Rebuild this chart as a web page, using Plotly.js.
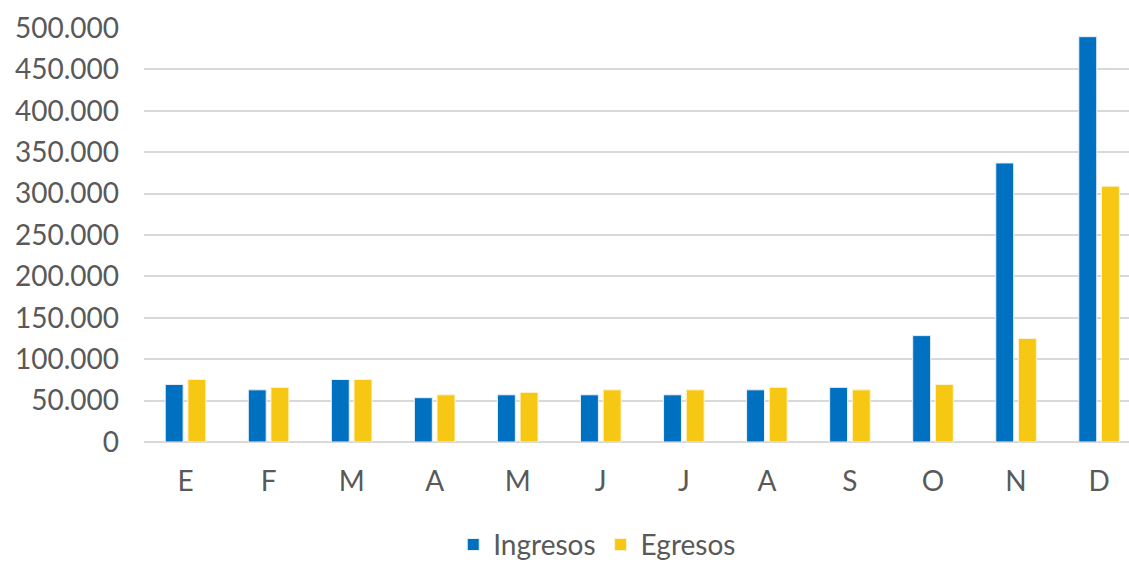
<!DOCTYPE html>
<html>
<head>
<meta charset="utf-8">
<script src="https://cdn.plot.ly/plotly-3.0.1.min.js"></script>
<style>html,body{margin:0;padding:0;background:#fff;}#chart{width:1129px;height:564px;}</style>
</head>
<body>
<div id="chart"></div>
<script>
const months = ["E","F","M","A","M","J","J","A","S","O","N","D"];
const ingresos = [69500, 63000, 75500, 53500, 57000, 57000, 57000, 63000, 66000, 128500, 337000, 489500];
const egresos  = [75500, 66000, 75500, 57000, 60000, 63000, 63000, 66000, 63000, 69500, 125000, 309000];
const xIdx = months.map((m, i) => i);

const font = {family: "Lato, 'Open Sans', sans-serif", color: "#595959", size: 28};

const traces = [
  {type: "bar", name: "Ingresos", x: xIdx, y: ingresos,
   marker: {color: "#0070C0", line: {color: "#E8F0F8", width: 1}}, hoverinfo: "y"},
  {type: "bar", name: "Egresos", x: xIdx, y: egresos,
   marker: {color: "#F6C814", line: {color: "#FFF4D0", width: 1}}, hoverinfo: "y"}
];

const layout = {
  width: 1129, height: 564,
  margin: {l: 143.5, r: 0, t: 27.5, b: 122.3, pad: 0, autoexpand: false},
  paper_bgcolor: "#fff", plot_bgcolor: "#fff",
  separators: ",.",
  font: font,
  barmode: "group",
  bargap: 0.454,
  bargroupgap: 0.21,
  showlegend: true,
  legend: {orientation: "h", xref: "container", x: 0.529, xanchor: "center",
           yref: "container", y: 0.034, yanchor: "middle", font: font, itemwidth: 30,
           tracegroupgap: 0, traceorder: "normal"},
  xaxis: {
    tickmode: "array", tickvals: xIdx, ticktext: months,
    range: [-0.5, 11.36], showgrid: false, zeroline: false, showline: false,
    ticks: "", tickfont: font, ticklabelstandoff: 20
  },
  yaxis: {
    range: [0, 500000], dtick: 50000, tick0: 0, tickformat: ",d",
    showgrid: true, gridcolor: "#D9D9D9", gridwidth: 2,
    zeroline: true, zerolinecolor: "#D9D9D9", zerolinewidth: 2,
    showline: false, ticks: "", tickfont: font, ticklabelstandoff: 24
  }
};

Plotly.newPlot("chart", traces, layout, {staticPlot: true, displayModeBar: false});
</script>
</body>
</html>
